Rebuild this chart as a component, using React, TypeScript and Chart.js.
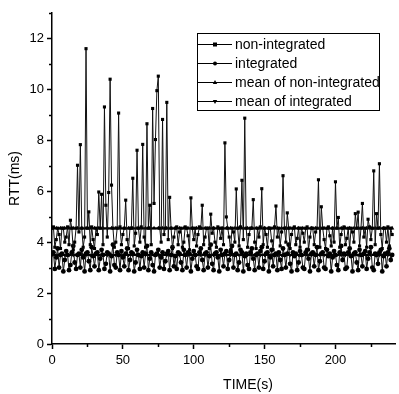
import React, { useEffect, useRef } from "react";
import { Chart, registerables } from "chart.js";

Chart.register(...registerables);

// Sampling instants (s)
const TIME = [
  0, 1, 2, 3, 4, 5, 6, 7, 8, 9, 10, 11, 12, 13, 14, 15, 16, 17, 18, 19,
  20, 21, 22, 23, 24, 25, 26, 27, 28, 29, 30, 31, 32, 33, 34, 35, 36, 37, 38, 39,
  40, 41, 42, 43, 44, 45, 46, 47, 48, 49, 50, 51, 52, 53, 54, 55, 56, 57, 58, 59,
  60, 61, 62, 63, 64, 65, 66, 67, 68, 69, 70, 71, 72, 73, 74, 75, 76, 77, 78, 79,
  80, 81, 82, 83, 84, 85, 86, 87, 88, 89, 90, 91, 92, 93, 94, 95, 96, 97, 98, 99,
  100, 101, 102, 103, 104, 105, 106, 107, 108, 109, 110, 111, 112, 113, 114, 115, 116, 117, 118, 119,
  120, 121, 122, 123, 124, 125, 126, 127, 128, 129, 130, 131, 132, 133, 134, 135, 136, 137, 138, 139,
  140, 141, 142, 143, 144, 145, 146, 147, 148, 149, 150, 151, 152, 153, 154, 155, 156, 157, 158, 159,
  160, 161, 162, 163, 164, 165, 166, 167, 168, 169, 170, 171, 172, 173, 174, 175, 176, 177, 178, 179,
  180, 181, 182, 183, 184, 185, 186, 187, 188, 189, 190, 191, 192, 193, 194, 195, 196, 197, 198, 199,
  200, 201, 202, 203, 204, 205, 206, 207, 208, 209, 210, 211, 212, 213, 214, 215, 216, 217, 218, 219,
  220, 221, 222, 223, 224, 225, 226, 227, 228, 229, 230, 231, 232, 233, 234, 235, 236, 237, 238, 239,
  240,
];

// RTT (ms), non-integrated
const NON_INTEGRATED = [
  4.55, 4.6, 3.8, 4.1, 4.55, 4.3, 3.75, 4.55, 4.55, 4.0,
  4.2, 4.6, 3.9, 4.86, 4.55, 3.7, 4.0, 4.55, 7.02, 4.4,
  7.83, 4.55, 3.8, 4.2, 11.6, 4.55, 5.19, 3.9, 4.6, 4.1,
  3.75, 4.55, 4.3, 5.97, 4.55, 5.88, 3.9, 9.31, 5.45, 4.2,
  5.95, 10.4, 6.24, 4.55, 3.8, 4.0, 4.55, 9.07, 4.6, 3.9,
  4.3, 4.55, 5.65, 4.1, 3.75, 4.55, 4.55, 6.51, 3.85, 4.35,
  7.61, 4.55, 4.0, 4.6, 7.84, 4.2, 3.8, 8.65, 4.55, 5.45,
  3.9, 9.25, 5.52, 8.03, 9.95, 10.52, 4.55, 4.0, 8.82, 4.3,
  4.55, 9.49, 4.1, 5.76, 4.55, 3.75, 4.2, 4.55, 4.6, 3.9,
  4.4, 4.55, 3.8, 4.0, 4.6, 4.55, 4.25, 3.7, 5.74, 4.55,
  4.1, 4.55, 3.85, 4.3, 4.6, 4.55, 5.45, 3.9, 4.2, 4.55,
  4.55, 3.75, 5.1, 4.35, 4.55, 4.0, 3.8, 4.6, 4.55, 4.15,
  4.55, 3.9, 7.9, 4.99, 4.55, 4.2, 3.7, 4.55, 4.4, 4.0,
  6.09, 4.55, 3.85, 4.6, 6.43, 4.1, 8.87, 4.55, 3.8, 4.3,
  4.55, 4.55, 5.67, 4.0, 3.75, 4.55, 4.2, 4.6, 6.1, 3.9,
  4.55, 4.3, 3.8, 4.55, 4.55, 4.05, 3.7, 4.6, 5.42, 4.2,
  4.55, 3.85, 4.4, 6.61, 4.55, 4.0, 5.15, 4.55, 3.75, 4.3,
  4.55, 4.6, 3.9, 4.15, 4.55, 3.8, 4.55, 4.35, 4.0, 4.55,
  4.6, 3.7, 4.2, 4.55, 4.55, 3.9, 4.4, 4.55, 6.45, 3.8,
  5.39, 4.55, 4.1, 3.75, 4.55, 4.6, 4.25, 3.85, 4.55, 4.0,
  6.37, 4.55, 4.97, 3.8, 4.3, 4.55, 4.6, 3.9, 4.15, 4.55,
  3.75, 4.55, 4.4, 4.0, 5.12, 4.55, 5.18, 3.85, 4.55, 5.52,
  4.2, 4.55, 3.8, 4.9, 4.6, 4.1, 4.55, 6.8, 3.9, 5.12,
  4.55, 7.08, 4.3, 3.75, 4.55, 4.55, 4.0, 4.6, 3.85, 4.55,
  4.3,
];

// RTT (ms), integrated
const INTEGRATED = [
  3.55, 3.6, 2.95, 3.4, 3.75, 3.0, 3.5, 3.55, 2.85, 3.3,
  3.65, 3.5, 2.9, 3.1, 3.6, 3.85, 3.2, 2.95, 3.5, 3.55,
  3.0, 3.7, 3.4, 2.85, 3.55, 3.6, 3.25, 2.9, 3.8, 3.45,
  3.05, 3.55, 3.6, 2.9, 3.35, 3.7, 3.5, 2.95, 3.15, 3.6,
  3.55, 2.85, 3.45, 3.9, 3.1, 3.0, 3.6, 3.5, 2.9, 3.65,
  3.4, 3.05, 3.55, 3.75, 2.9, 3.3, 3.6, 3.55, 2.85, 3.2,
  3.7, 3.5, 2.95, 3.45, 3.6, 3.0, 3.55, 3.85, 2.9, 3.35,
  3.6, 3.1, 2.85, 3.5, 3.55, 3.7, 3.0, 3.4, 3.6, 2.95,
  3.25, 3.55, 3.65, 2.9, 3.5, 3.8, 3.05, 3.45, 2.95, 3.6,
  3.55, 3.2, 2.9, 3.7, 3.5, 3.0, 3.6, 3.55, 2.85, 3.35,
  3.65, 3.5, 3.05, 2.95, 3.6, 3.75, 3.3, 2.9, 3.55, 3.6,
  3.0, 3.45, 3.9, 3.15, 2.9, 3.55, 3.6, 3.4, 2.85, 3.7,
  3.5, 3.05, 3.55, 3.65, 2.95, 3.3, 3.6, 3.85, 3.0, 3.5,
  3.55, 2.9, 3.2, 3.7, 3.6, 2.85, 3.45, 3.55, 3.1, 2.95,
  3.6, 3.75, 3.35, 2.9, 3.5, 3.55, 3.0, 3.65, 3.8, 2.95,
  3.25, 3.55, 3.6, 2.85, 3.4, 3.7, 3.05, 3.5, 3.55, 2.9,
  3.6, 3.3, 2.95, 3.75, 3.5, 3.0, 3.55, 3.9, 3.15, 2.85,
  3.6, 3.45, 3.55, 2.9, 3.2, 3.65, 3.5, 3.0, 2.95, 3.6,
  3.7, 3.35, 2.85, 3.55, 3.6, 3.05, 3.5, 3.8, 2.9, 3.25,
  3.55, 3.6, 3.0, 2.95, 3.7, 3.45, 3.55, 2.85, 3.4, 3.65,
  3.5, 3.1, 2.9, 3.6, 3.85, 3.3, 3.55, 2.95, 3.0, 3.6,
  3.75, 3.45, 2.85, 3.55, 3.6, 3.2, 2.9, 3.7, 3.5, 3.05,
  3.55, 3.65, 2.95, 3.35, 3.6, 3.8, 3.0, 2.9, 3.55, 3.5,
  3.15, 3.6, 3.7, 2.85, 3.45, 3.55, 3.05, 3.6, 3.75, 3.3,
  3.5,
];

const MEAN_NON_INTEGRATED = 4.55;
const MEAN_INTEGRATED = 3.5;

const SERIES_LABELS = [
  "non-integrated",
  "integrated",
  "mean of non-integrated",
  "mean of integrated",
];
const X_TITLE = "TIME(s)";
const Y_TITLE = "RTT(ms)";
const Y_MINOR = [1, 3, 5, 7, 9, 11, 13];
const X_MINOR = [25, 75, 125, 175, 225];

const FONT = '"Liberation Sans", Arial, sans-serif';

function drawMarker(ctx: CanvasRenderingContext2D, kind: string, x: number, y: number, r: number) {
  ctx.beginPath();
  if (kind === "rect") {
    ctx.rect(x - r, y - r, 2 * r, 2 * r);
  } else if (kind === "circle") {
    ctx.arc(x, y, r, 0, Math.PI * 2);
  } else if (kind === "up") {
    ctx.moveTo(x, y - r * 1.2);
    ctx.lineTo(x + r * 1.1, y + r * 0.8);
    ctx.lineTo(x - r * 1.1, y + r * 0.8);
    ctx.closePath();
  } else {
    ctx.moveTo(x, y + r * 1.2);
    ctx.lineTo(x + r * 1.1, y - r * 0.8);
    ctx.lineTo(x - r * 1.1, y - r * 0.8);
    ctx.closePath();
  }
  ctx.fill();
}

const decorPlugin = {
  id: "decor",
  afterDraw(chart: any) {
    const ctx: CanvasRenderingContext2D = chart.ctx;
    const xs = chart.scales.x;
    const ys = chart.scales.y;
    const { left, bottom, top } = chart.chartArea;
    ctx.save();
    ctx.strokeStyle = "#000";
    ctx.lineWidth = 1.5;
    Y_MINOR.forEach((v) => {
      const y = Math.round(ys.getPixelForValue(v)) + 0.5;
      ctx.beginPath();
      ctx.moveTo(left - 3, y);
      ctx.lineTo(left, y);
      ctx.stroke();
    });
    X_MINOR.forEach((v) => {
      const x = Math.round(xs.getPixelForValue(v)) + 0.5;
      ctx.beginPath();
      ctx.moveTo(x, bottom);
      ctx.lineTo(x, bottom + 3);
      ctx.stroke();
    });

    // axis titles
    ctx.fillStyle = "#000";
    ctx.font = `14px ${FONT}`;
    ctx.textAlign = "center";
    ctx.textBaseline = "middle";
    ctx.fillText(X_TITLE, 248, 385);
    ctx.save();
    ctx.translate(15, (top + bottom) / 2);
    ctx.rotate(-Math.PI / 2);
    ctx.fillText(Y_TITLE, 0, 0);
    ctx.restore();

    // legend box
    const bx = 197, by = 33, bw = 182, bh = 77;
    ctx.fillStyle = "#fff";
    ctx.fillRect(bx, by, bw, bh);
    ctx.strokeStyle = "#000";
    ctx.lineWidth = 1;
    ctx.strokeRect(bx + 0.5, by + 0.5, bw, bh);
    const kinds = ["rect", "circle", "up", "down"];
    ctx.textAlign = "left";
    ctx.textBaseline = "middle";
    ctx.font = `14px ${FONT}`;
    SERIES_LABELS.forEach((label, i) => {
      const y = Math.round(43.5 + i * 19.2) + 0.5;
      ctx.strokeStyle = "#000";
      ctx.lineWidth = 1;
      ctx.beginPath();
      ctx.moveTo(bx + 1, y);
      ctx.lineTo(232, y);
      ctx.stroke();
      ctx.fillStyle = "#000";
      drawMarker(ctx, kinds[i], 215, y, 2);
      ctx.fillText(label, 235, y + 1);
    });
    ctx.restore();
  },
};

export default function App() {
  const ref = useRef<HTMLCanvasElement | null>(null);

  useEffect(() => {
    document.body.style.margin = "0";
    const canvas = ref.current;
    if (!canvas) return;
    const showEvery = (n: number, r: number) => (c: any) => (c.dataIndex % n === 0 ? r : 0);
    const chart = new Chart(canvas, {
      type: "line",
      data: {
        labels: TIME,
        datasets: [
          {
            label: SERIES_LABELS[0],
            data: NON_INTEGRATED,
            borderColor: "#111",
            backgroundColor: "#000",
            borderWidth: 1,
            pointStyle: "rect",
            pointRadius: 2.2,
            pointBorderWidth: 0,
            pointHoverRadius: 2.2,
          },
          {
            label: SERIES_LABELS[1],
            data: INTEGRATED,
            borderColor: "#111",
            backgroundColor: "#000",
            borderWidth: 1,
            pointStyle: "circle",
            pointRadius: 2.4,
            pointBorderWidth: 0,
            pointHoverRadius: 2.4,
          },
          {
            label: SERIES_LABELS[2],
            data: TIME.map(() => MEAN_NON_INTEGRATED),
            borderColor: "#000",
            backgroundColor: "#000",
            borderWidth: 2,
            pointStyle: "triangle",
            pointRadius: showEvery(3, 2.5),
            pointBorderWidth: 0,
          },
          {
            label: SERIES_LABELS[3],
            data: TIME.map(() => MEAN_INTEGRATED),
            borderColor: "#000",
            backgroundColor: "#000",
            borderWidth: 2,
            pointStyle: "triangle",
            pointRotation: 180,
            pointRadius: showEvery(3, 2.5),
            pointBorderWidth: 0,
          },
        ],
      },
      options: {
        responsive: false,
        animation: false,
        devicePixelRatio: 1,
        layout: { padding: { left: 0, top: 13, right: 1, bottom: 0 } },
        plugins: { legend: { display: false }, tooltip: { enabled: false } },
        events: [],
        scales: {
          x: {
            type: "linear",
            min: 0,
            max: 242,
            afterFit: (s: any) => {
              s.height = 50;
            },
            border: { display: true, color: "#000", width: 1.5 },
            grid: {
              drawOnChartArea: false,
              drawTicks: true,
              tickLength: 5,
              tickColor: "#000",
              tickWidth: 1.5,
            },
            ticks: {
              stepSize: 50,
              includeBounds: false,
              color: "#000",
              padding: 4,
              maxRotation: 0,
              font: { family: FONT, size: 13 },
            },
          },
          y: {
            type: "linear",
            min: 0,
            max: 13,
            afterFit: (s: any) => {
              s.width = 52;
            },
            border: { display: true, color: "#000", width: 1.5 },
            grid: {
              drawOnChartArea: false,
              drawTicks: true,
              tickLength: 5,
              tickColor: "#000",
              tickWidth: 1.5,
            },
            ticks: {
              stepSize: 2,
              includeBounds: false,
              color: "#000",
              padding: 3,
              font: { family: FONT, size: 13 },
            },
          },
        },
      },
      plugins: [decorPlugin],
    } as any);
    return () => chart.destroy();
  }, []);

  return (
    <div style={{ width: 399, height: 394 }}>
      <canvas ref={ref} width={399} height={394} style={{ display: "block" }} />
    </div>
  );
}
